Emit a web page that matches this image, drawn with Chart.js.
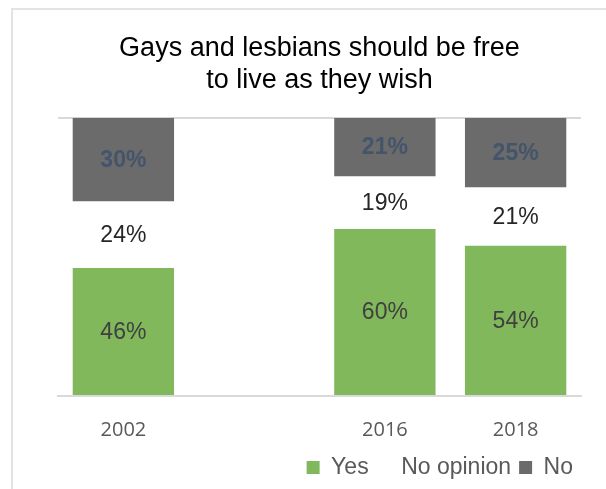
<!DOCTYPE html>
<html>
<head>
<meta charset="utf-8">
<script src="https://cdn.jsdelivr.net/npm/chart.js@4.4.1/dist/chart.umd.min.js"></script>
<style>
  html, body { margin: 0; padding: 0; background: #fff; }
  #wrap { position: relative; width: 606px; height: 489px; overflow: hidden; }
  #frame { position: absolute; left: 11px; top: 8px; width: 700px; height: 600px; border: 2px solid #e3e3e3; box-sizing: border-box; }
  canvas { position: absolute; left: 0; top: 0; }
</style>
</head>
<body>
<div id="wrap">
  <div id="frame"></div>
  <canvas id="grafico" width="606" height="489"></canvas>
</div>
<script>
var anos = ['2002', '', '2016', '2018'];
var sim = [46, null, 60, 54];
var semOpiniao = [24, null, 19, 21];
var nao = [30, null, 21, 25];

// rótulos em cima das barras
var rotulos = {
  id: 'rotulos',
  afterDatasetsDraw: function(chart) {
    var ctx = chart.ctx;
    var estilos = [
      { font: '23px "Liberation Sans", Arial, sans-serif', color: '#404040' },
      { font: '23px "Liberation Sans", Arial, sans-serif', color: '#262626' },
      { font: 'bold 23px "Liberation Sans", Arial, sans-serif', color: '#44546a' }
    ];
    ctx.save();
    ctx.textAlign = 'center';
    ctx.textBaseline = 'middle';
    chart.data.datasets.forEach(function(ds, i) {
      var meta = chart.getDatasetMeta(i);
      meta.data.forEach(function(bar, j) {
        var v = ds.data[j];
        if (v == null) return;
        var p = bar.getProps(['x', 'y', 'base'], true);
        ctx.font = estilos[i].font;
        ctx.fillStyle = estilos[i].color;
        ctx.fillText(v + '%', p.x, (p.y + p.base) / 2 + 1);
      });
    });
    ctx.restore();
  }
};

var ctx = document.getElementById('grafico').getContext('2d');
var grafico = new Chart(ctx, {
  type: 'bar',
  data: {
    labels: anos,
    datasets: [{
      label: 'Yes',
      data: sim,
      backgroundColor: '#80b85b'
    }, {
      label: 'No opinion',
      data: semOpiniao,
      backgroundColor: 'rgba(255,255,255,0)'
    }, {
      label: 'No',
      data: nao,
      backgroundColor: '#6b6b6b'
    }]
  },
  options: {
    responsive: false,
    animation: false,
    categoryPercentage: 1.0,
    barPercentage: 0.775,
    layout: { padding: { left: 58, right: 25, top: 0, bottom: 0 } },
    scales: {
      x: {
        stacked: true,
        grid: { display: false, drawTicks: false },
        border: { display: true, color: '#d9d9d9', width: 2 },
        ticks: {
          padding: 22,
          color: '#595959',
          font: { family: '"Open Sans", sans-serif', size: 20 }
        },
        afterFit: function(axis) { axis.height = axis.height - 16; }
      },
      y: {
        stacked: true,
        min: 0,
        max: 100,
        ticks: { display: false, stepSize: 100 },
        grid: { drawTicks: false, color: '#d9d9d9', lineWidth: 2 },
        border: { display: false }
      }
    },
    plugins: {
      title: {
        display: true,
        text: ['Gays and lesbians should be free', 'to live as they wish'],
        color: '#000000',
        font: { family: '"Liberation Sans", Arial, sans-serif', size: 27, weight: 'normal', lineHeight: 1.18 },
        padding: { top: 33, bottom: 21 }
      },
      legend: {
        position: 'bottom',
        align: 'end',
        labels: {
          color: '#595959',
          boxWidth: 13,
          boxHeight: 13,
          padding: 8,
          font: { family: '"Liberation Sans", Arial, sans-serif', size: 23 }
        }
      },
      tooltip: { enabled: false }
    }
  },
  plugins: [rotulos]
});
</script>
</body>
</html>
